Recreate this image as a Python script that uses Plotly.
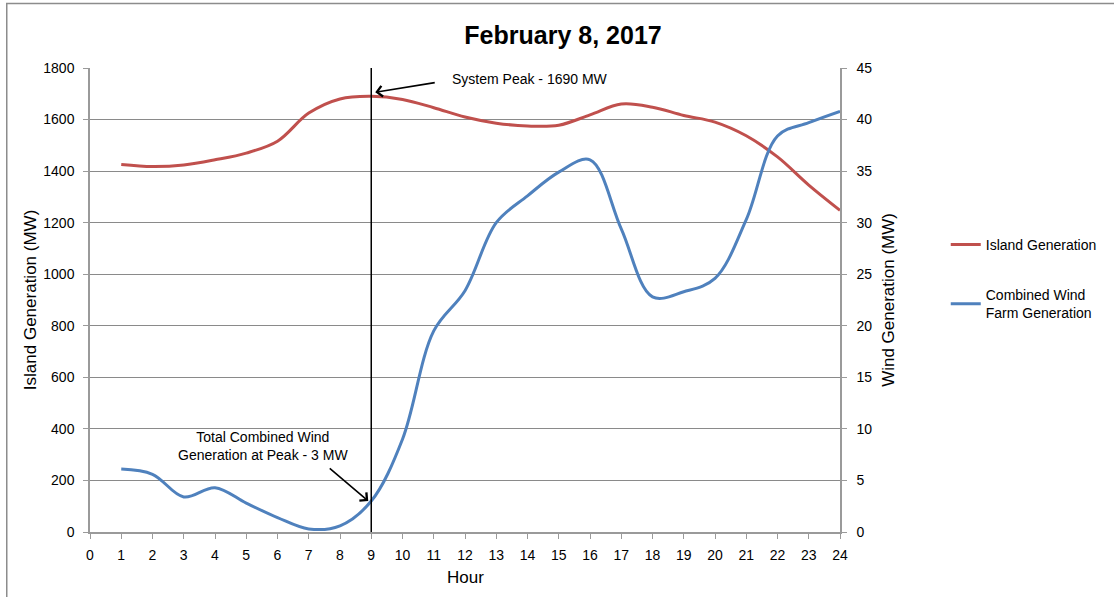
import plotly.graph_objects as go

# Hourly generation, February 8, 2017
hours = list(range(1, 25))
island_gen = [1426, 1418, 1424, 1444, 1470, 1516, 1625, 1680, 1690, 1678, 1646, 1610,
              1586, 1575, 1578, 1618, 1660, 1648, 1616, 1590, 1537, 1455, 1346, 1248]
wind_gen = [6.1, 5.6, 3.4, 4.3, 2.8, 1.4, 0.3, 0.6, 3.0, 9.0, 19.5, 23.4,
            30.0, 32.6, 34.9, 36.1, 29.4, 22.8, 23.3, 24.6, 30.3, 38.4, 39.7, 40.8]

peak_hour = 9
peak_mw = 1690
wind_at_peak = 3

x_ticks = list(range(0, 25))
left_ticks = list(range(0, 1801, 200))
right_ticks = list(range(0, 46, 5))

FONT = "Liberation Sans, Arial, sans-serif"
GRID = "#8a8a8a"
AXIS = "#9a9a9a"

fig = go.Figure()
fig.add_trace(go.Scatter(
    x=hours, y=island_gen, name="Island Generation", mode="lines",
    line=dict(color="#C0504D", width=3, shape="spline", smoothing=1),
    legendgroup="island", yaxis="y"))
fig.add_trace(go.Scatter(
    x=hours, y=wind_gen, name="Combined Wind<br>Farm Generation", mode="lines",
    line=dict(color="#4F81BD", width=3, shape="spline", smoothing=1),
    legendgroup="wind", yaxis="y2"))

# vertical marker at the system peak hour
fig.add_shape(type="line", xref="x", yref="paper", x0=peak_hour, x1=peak_hour,
              y0=0, y1=1, line=dict(color="black", width=1.5))

# outer chart border (left and top edges)
fig.add_shape(type="rect", xref="paper", yref="paper",
              x0=-0.111, x1=1.6, y0=-0.3, y1=1.139,
              line=dict(color="#8c8c8c", width=1.5), layer="below")

# peak annotation
fig.add_annotation(x=peak_hour, y=peak_mw, xref="x", yref="y", text="",
                   showarrow=True, arrowhead=4, arrowsize=1.3, arrowwidth=1.6,
                   arrowcolor="black", ax=61, ay=-10, xshift=4, yshift=4)
fig.add_annotation(x=14.07, y=1759, xref="x", yref="y",
                   text=f"System Peak - {peak_mw} MW", showarrow=False,
                   xanchor="center", yanchor="middle",
                   font=dict(family=FONT, size=14, color="black"))

# wind-at-peak annotation
fig.add_annotation(x=peak_hour, y=wind_at_peak, xref="x", yref="y2", text="",
                   showarrow=True, arrowhead=4, arrowsize=1.3, arrowwidth=1.6,
                   arrowcolor="black", ax=-40, ay=-34, xshift=-3)
fig.add_annotation(x=5.52, y=334, xref="x", yref="y",
                   text=f"Total Combined Wind<br>Generation at Peak - {wind_at_peak} MW",
                   showarrow=False, align="center", xanchor="center", yanchor="middle",
                   font=dict(family=FONT, size=14, color="black"))

# axis titles
fig.add_annotation(x=-0.0798, y=0.5, xref="paper", yref="paper",
                   text="Island Generation (MW)", textangle=-90, showarrow=False,
                   xanchor="center", yanchor="middle",
                   font=dict(family=FONT, size=17, color="black"))
fig.add_annotation(x=1.0638, y=0.5, xref="paper", yref="paper",
                   text="Wind Generation (MW)", textangle=-90, showarrow=False,
                   xanchor="center", yanchor="middle",
                   font=dict(family=FONT, size=17, color="black"))
fig.add_annotation(x=0.5, y=-0.0991, xref="paper", yref="paper",
                   text="Hour", showarrow=False,
                   xanchor="center", yanchor="middle",
                   font=dict(family=FONT, size=17, color="black"))

fig.update_layout(
    width=1114, height=597,
    margin=dict(l=90, r=272, t=68, b=65),
    paper_bgcolor="white", plot_bgcolor="white",
    font=dict(family=FONT, size=14, color="black"),
    title=dict(text="<b>February 8, 2017</b>", x=0.5054, xref="container",
               y=0.941, yref="container", xanchor="center", yanchor="middle",
               font=dict(family=FONT, size=25, color="black")),
    xaxis=dict(range=[0, 24], tickmode="array", tickvals=x_ticks,
               ticktext=[str(v) for v in x_ticks], showgrid=False,
               showline=True, linecolor=AXIS, linewidth=1.5,
               ticks="outside", ticklen=5, tickcolor=AXIS, zeroline=False,
               ticklabelstandoff=4,
               tickfont=dict(family=FONT, size=14)),
    yaxis=dict(range=[0, 1800], tickmode="array", tickvals=left_ticks,
               showgrid=True, gridcolor=GRID, gridwidth=1,
               showline=True, linecolor=AXIS, linewidth=1.5,
               ticks="outside", ticklen=5, tickcolor=AXIS, zeroline=False,
               ticklabelstandoff=6,
               tickfont=dict(family=FONT, size=14)),
    yaxis2=dict(range=[0, 45], tickmode="array", tickvals=right_ticks,
                overlaying="y", side="right", showgrid=False,
                showline=True, linecolor=AXIS, linewidth=1.5,
                ticks="outside", ticklen=5, tickcolor=AXIS, zeroline=False,
                ticklabelstandoff=7,
                tickfont=dict(family=FONT, size=14)),
    legend=dict(x=1.141, y=0.6535, xanchor="left", yanchor="top",
                bgcolor="rgba(0,0,0,0)", tracegroupgap=29,
                font=dict(family=FONT, size=14, color="black"),
                itemwidth=30),
    showlegend=True,
)

fig.write_html("out.html")
